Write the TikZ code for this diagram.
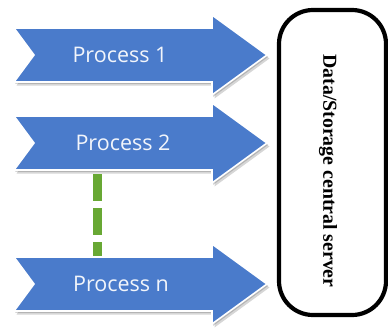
\documentclass[tikz,border=0pt]{standalone}
\usepackage{fontspec}
\setmainfont{Liberation Serif}
\newfontfamily\procfont{Open Sans}
\definecolor{procblue}{RGB}{74,123,203}
\definecolor{proctext}{RGB}{242,245,251}
\definecolor{linkgreen}{RGB}{104,168,52}
\tikzset{
  arrowbody/.style={fill=procblue, draw=white, line width=1.6pt, line join=miter},
  arrowshade/.style={fill=black, opacity=0.16},
  proclabel/.style={text=proctext, font=\procfont\fontsize{21.5}{24}\selectfont, inner sep=0pt},
  serverbox/.style={draw=black, line width=4.2pt, rounded corners=34pt},
  serverlabel/.style={font=\bfseries\fontsize{19.8}{22}\selectfont, rotate=-90, inner sep=0pt},
  greenlink/.style={draw=linkgreen, line width=8.5pt, dash pattern=on 27pt off 7pt}
}
% notched process arrow: #1 = centre line y
\newcommand\procshape[1]{%
  (14,#1-27) -- (212,#1-27) -- (212,#1-40) -- (267,#1) -- (212,#1+40) --
  (212,#1+27) -- (14,#1+27) -- (34,#1) -- cycle}
\begin{document}
\begin{tikzpicture}[x=1pt, y=-1pt]
  \useasboundingbox (0,0) rectangle (388,327);
  % process arrows with a soft drop shadow
  \foreach \cy/\nm/\txt/\tx in {55/p1/Process 1/120, 143/p2/Process 2/123, 284/pn/Process n/121}{
    \begin{scope}[shift={(2.5,3.5)}]
      \fill[arrowshade] \procshape{\cy};
    \end{scope}
    \begin{scope}[shift={(1.2,1.8)}]
      \fill[arrowshade] \procshape{\cy};
    \end{scope}
    \path[arrowbody] \procshape{\cy};
    \node[proclabel] (\nm) at (\tx,\cy) {\txt};
  }
  % dashed link between process 2 and process n
  \coordinate (linktop) at (97.5,174);
  \coordinate (linkbot) at (97.5,256);
  \draw[greenlink] (linktop) -- (linkbot);
  % central server
  \node[serverbox, minimum width=107pt, minimum height=305pt] (server) at (332.5,162.5) {};
  \node[serverlabel] (serverlbl) at (328,171) {Data/Storage central server};
\end{tikzpicture}
\end{document}
